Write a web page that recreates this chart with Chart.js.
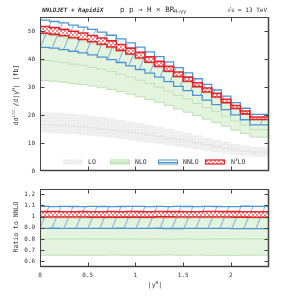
<!DOCTYPE html>
<html>
<head>
<meta charset="utf-8">
<script src="https://cdn.jsdelivr.net/npm/chart.js@4.4.0/dist/chart.umd.min.js"></script>
<style>
  html, body { margin: 0; padding: 0; background: #fff; }
  #wrap { position: relative; width: 284px; height: 301px; overflow: hidden; }
  .pane { position: absolute; left: 0; width: 284px; }
</style>
</head>
<body>
<div id="wrap">
  <div class="pane" style="top:0;height:180px"><canvas id="mainChart" width="284" height="180"></canvas></div>
  <div class="pane" style="top:180px;height:121px"><canvas id="ratioChart" width="284" height="121"></canvas></div>
</div>
<script>
// bin edges in |y^H|
const binEdges = [0.0, 0.1, 0.2, 0.3, 0.4, 0.5, 0.6, 0.7, 0.8, 0.9, 1.0, 1.1, 1.2,
                  1.3, 1.4, 1.5, 1.6, 1.7, 1.8, 1.9, 2.0, 2.1, 2.2, 2.3, 2.4];

// dsigma/d|y^H| [fb], one value per bin
const loLow     = [13.8,13.7,13.6,13.4,13.2,12.9,12.6,12.3,11.9,11.5,11.0,10.6,10.2,9.7,9.3,8.8,8.3,7.8,7.3,6.8,6.3,5.9,5.5,5.2];
const loCentral = [16.6,16.6,16.5,16.3,16.1,15.9,15.5,15.2,14.8,14.4,14.0,13.5,13.0,12.5,11.9,11.4,10.8,10.1,9.5,8.9,8.2,7.7,7.3,6.9];
const loHigh    = [21.2,21.1,21.0,20.8,20.5,20.2,19.8,19.4,18.9,18.4,17.8,17.2,16.6,15.9,15.2,14.5,13.7,12.9,12.1,11.3,10.5,9.8,9.3,8.8];

const nloLow     = [32.5,32.4,32.1,31.8,31.3,30.9,30.4,29.8,29.2,28.4,27.5,26.6,25.6,24.6,23.5,22.2,21.1,19.9,18.6,17.4,16.1,14.7,13.5,12.2];
const nloCentral = [39.7,39.5,39.2,38.8,38.2,37.8,37.1,36.4,35.6,34.6,33.6,32.5,31.3,30.0,28.6,27.1,25.8,24.2,22.7,21.3,19.7,18.0,16.5,14.9];
const nloHigh    = [48.9,48.7,48.3,47.8,47.1,46.5,45.7,44.8,43.8,42.7,41.4,40.0,38.5,36.9,35.3,33.4,31.7,29.9,28.0,26.2,24.2,22.2,20.3,18.3];

const nnloLow     = [44.4,44.2,43.9,43.4,42.8,42.2,41.5,40.7,39.8,38.8,37.6,36.3,35.0,33.6,32.0,30.3,28.8,27.1,25.4,23.8,22.0,20.1,18.4,16.6];
const nnloCentral = [49.6,49.4,49.0,48.5,47.8,47.2,46.4,45.5,44.5,43.3,42.0,40.6,39.1,37.5,35.8,33.9,32.2,30.3,28.4,26.6,24.6,22.5,20.6,18.6];
const nnloHigh    = [54.1,53.9,53.4,52.9,52.1,51.4,50.6,49.6,48.5,47.2,45.8,44.3,42.6,40.9,39.0,37.0,35.1,33.0,31.0,29.0,26.8,24.5,22.5,20.3];

const n3loLow  = [49.4,49.2,48.8,48.3,47.6,47.0,46.2,45.3,44.3,43.1,41.8,40.4,38.9,37.4,35.7,33.8,32.1,30.2,28.3,26.5,24.5,22.4,20.5,18.5];
const n3loHigh = [51.8,51.6,51.2,50.6,49.9,49.3,48.4,47.5,46.5,45.2,43.9,42.4,40.8,39.2,37.4,35.4,33.6,31.6,29.7,27.8,25.7,23.5,21.5,19.4];

const mainYTicks  = [0, 10, 20, 30, 40, 50];
const ratioYTicks = [0.6, 0.7, 0.8, 0.9, 1, 1.1, 1.2];
const xTicks      = [0, 0.5, 1, 1.5, 2];
const legendLabels = ['LO', 'NLO', 'NNLO', 'N3LO'];

const MONO = '"DejaVu Sans Mono", "Liberation Mono", monospace';
const TXT = '#333';

// histogram step points: one point per bin edge, last bin repeated
function steps(vals) {
    return binEdges.map((x, i) => ({ x: x, y: vals[Math.min(i, vals.length - 1)] }));
}
function ratioTo(vals) {
    return vals.map((v, i) => v / nnloCentral[i]);
}

// --- fill patterns ---
function makePattern(w, h, paint) {
    const c = document.createElement('canvas');
    c.width = w; c.height = h;
    const g = c.getContext('2d');
    paint(g, w, h);
    return g.createPattern(c, 'repeat');
}
const grayPattern = makePattern(3, 3, (g) => {
    g.fillStyle = '#f2f2f2'; g.fillRect(0, 0, 3, 3);
    g.fillStyle = '#e6e6e6'; g.fillRect(0, 0, 1, 1); g.fillRect(2, 1, 1, 1);
});
const hatchPattern = makePattern(12, 29, (g, w, h) => {
    g.strokeStyle = '#6aa6d8'; g.lineWidth = 0.9;
    for (let k = -1; k <= 1; k++) {
        g.beginPath();
        g.moveTo(k * w - 2, h + 2 * 29 / 12);
        g.lineTo(k * w + w + 2, -2 * 29 / 12);
        g.stroke();
    }
});
const checkerPattern = makePattern(4, 4, (g) => {
    g.fillStyle = '#f08a8a'; g.fillRect(0, 0, 4, 4);
    g.fillStyle = '#ffffff'; g.fillRect(0, 0, 2, 2); g.fillRect(2, 2, 2, 2);
});

const GREEN_FILL = '#e3f3de';
const GREEN_LINE = '#bde3b5';
const BLUE = '#4d95d0';
const RED = '#e3262e';

function bandSets(lo, hi, baseIdx, style) {
    // lower edge, then upper edge filled down to it
    return [
        { data: steps(lo), borderColor: style.edge, borderWidth: style.edgeWidth, fill: false, order: style.order },
        { data: steps(hi), borderColor: style.edge, borderWidth: style.edgeWidth, backgroundColor: style.fill,
          fill: { target: baseIdx }, order: style.order + 1 }
    ];
}

function buildDatasets(src) {
    const sets = [];
    let idx;
    if (src.lo) {
        idx = sets.length;
        sets.push(...bandSets(src.lo[0], src.lo[2], idx, { edge: 'rgba(0,0,0,0)', edgeWidth: 0, fill: grayPattern, order: 40 }));
        sets.push({ data: steps(src.lo[1]), borderColor: '#e0e0e0', borderWidth: 1, fill: false, order: 39 });
    }
    idx = sets.length;
    sets.push(...bandSets(src.nlo[0], src.nlo[2], idx, { edge: GREEN_LINE, edgeWidth: 1, fill: GREEN_FILL, order: 30 }));
    sets.push({ data: steps(src.nlo[1]), borderColor: GREEN_LINE, borderWidth: 1, fill: false, order: 29 });
    idx = sets.length;
    sets.push(...bandSets(src.nnlo[0], src.nnlo[2], idx, { edge: BLUE, edgeWidth: 1.3, fill: hatchPattern, order: 20 }));
    idx = sets.length;
    sets.push(...bandSets(src.n3lo[0], src.n3lo[1], idx, { edge: RED, edgeWidth: 1.6, fill: checkerPattern, order: 10 }));
    sets.forEach(s => { s.stepped = 'after'; s.pointRadius = 0; s.tension = 0; });
    return sets;
}

// frame with inward ticks on all four sides
function framePlugin(yTickVals) {
    return {
        id: 'frame',
        afterDraw(chart) {
            const { ctx, chartArea: a, scales } = chart;
            ctx.save();
            ctx.strokeStyle = '#444';
            ctx.lineWidth = 1;
            const L = Math.round(a.left) + 0.5, R = Math.round(a.right) - 0.5;
            const T = Math.round(a.top) + 0.5, B = Math.round(a.bottom) - 0.5;
            ctx.beginPath();
            yTickVals.forEach(v => {
                const y = Math.round(scales.y.getPixelForValue(v)) + 0.5;
                if (y < T + 1 || y > B - 1) return;
                ctx.moveTo(L, y); ctx.lineTo(L + 4, y);
                ctx.moveTo(R, y); ctx.lineTo(R - 4, y);
            });
            xTicks.forEach(v => {
                const x = Math.round(scales.x.getPixelForValue(v)) + 0.5;
                if (x < L + 1 || x > R - 1) return;
                ctx.moveTo(x, T); ctx.lineTo(x, T + 4);
                ctx.moveTo(x, B); ctx.lineTo(x, B - 4);
            });
            ctx.stroke();
            ctx.strokeRect(L, T, R - L, B - T);
            ctx.lineWidth = 1.5;
            ctx.beginPath();
            ctx.moveTo(R, T); ctx.lineTo(R, B); ctx.lineTo(L, B);
            ctx.stroke();
            ctx.restore();
        }
    };
}

// text with super/subscripts: parts = [text, size, dy, style]
function drawRich(ctx, parts, x, y, align) {
    let total = 0;
    parts.forEach(p => { ctx.font = (p[3] || '') + ' ' + p[1] + 'px ' + MONO; p.w = ctx.measureText(p[0]).width; total += p.w; });
    let cx = align === 'center' ? x - total / 2 : (align === 'right' ? x - total : x);
    ctx.textAlign = 'left';
    parts.forEach(p => {
        ctx.font = (p[3] || '') + ' ' + p[1] + 'px ' + MONO;
        ctx.fillText(p[0], cx, y + p[2]);
        cx += p.w;
    });
}

const mainTextPlugin = {
    id: 'mainText',
    afterDraw(chart) {
        const ctx = chart.ctx;
        ctx.save();
        ctx.fillStyle = TXT;
        ctx.textBaseline = 'middle';
        drawRich(ctx, [['NNLOJET + RapidiX', 6, 0, 'italic bold']], 42, 10, 'left');
        drawRich(ctx, [['p p \u2192 H \u00d7 BR', 7.5, 0], ['H\u2192\u03b3\u03b3', 5, 2]], 120, 10, 'left');
        drawRich(ctx, [['\u221as = 13 TeV', 6, 0]], 267, 10, 'right');

        // y axis title
        ctx.save();
        ctx.translate(16, 95);
        ctx.rotate(-Math.PI / 2);
        drawRich(ctx, [['d\u03c3', 6.5, 0], ['inc.', 4.5, -2.5], ['/d|y', 6.5, 0], ['H', 4.5, -2.5], ['| [fb]', 6.5, 0]], 0, 0, 'center');
        ctx.restore();

        // legend
        const ly = 162, bw = 20, bh = 5;
        const items = [
            { x: 63, tx: 88 }, { x: 110, tx: 135 }, { x: 158, tx: 183 }, { x: 205, tx: 231 }
        ];
        items.forEach((it, i) => {
            const x0 = it.x, y0 = ly - bh / 2;
            if (i === 0) {
                ctx.fillStyle = grayPattern; ctx.fillRect(x0, y0, bw, bh);
            } else if (i === 1) {
                ctx.fillStyle = GREEN_FILL; ctx.fillRect(x0, y0, bw, bh);
                ctx.strokeStyle = GREEN_LINE; ctx.lineWidth = 1;
                ctx.strokeRect(x0 + 0.5, y0 + 0.5, bw - 1, bh - 1);
                ctx.beginPath(); ctx.moveTo(x0, ly + 0.5); ctx.lineTo(x0 + bw, ly + 0.5); ctx.stroke();
            } else if (i === 2) {
                ctx.strokeStyle = BLUE; ctx.lineWidth = 1;
                ctx.strokeRect(x0 + 0.5, y0 + 0.5, bw - 1, bh - 1);
                ctx.beginPath(); ctx.moveTo(x0, ly + 0.5); ctx.lineTo(x0 + bw, ly + 0.5); ctx.stroke();
            } else {
                ctx.fillStyle = checkerPattern; ctx.fillRect(x0, y0, bw, bh);
                ctx.strokeStyle = RED; ctx.lineWidth = 1.2;
                ctx.strokeRect(x0 + 0.5, y0 + 0.5, bw - 1, bh - 1);
            }
            ctx.fillStyle = TXT;
            const lab = legendLabels[i];
            if (lab === 'N3LO') {
                drawRich(ctx, [['N', 6.5, 0], ['3', 4.5, -2.2], ['LO', 6.5, 0]], it.tx, ly, 'left');
            } else {
                drawRich(ctx, [[lab, 6.5, 0]], it.tx, ly, 'left');
            }
        });
        ctx.restore();
    }
};

const ratioTextPlugin = {
    id: 'ratioText',
    afterDraw(chart) {
        const ctx = chart.ctx;
        ctx.save();
        ctx.fillStyle = TXT;
        ctx.textBaseline = 'middle';
        ctx.save();
        ctx.translate(16, 47);
        ctx.rotate(-Math.PI / 2);
        drawRich(ctx, [['Ratio to NNLO', 6.5, 0]], 0, 0, 'center');
        ctx.restore();
        drawRich(ctx, [['|y', 6.5, 0], ['H', 4.5, -2.5], ['|', 6.5, 0]], 155, 105, 'center');
        ctx.restore();
    }
};

function tickFont() { return { family: MONO, size: 6 }; }

function baseOptions(yMin, yMax, yTickVals, showX, padding) {
    return {
        responsive: false,
        devicePixelRatio: 1,
        animation: false,
        events: [],
        layout: { padding: padding },
        plugins: { legend: { display: false }, tooltip: { enabled: false } },
        scales: {
            x: {
                type: 'linear', min: 0, max: 2.4,
                display: true,
                grid: { display: false, drawTicks: false },
                border: { display: false },
                afterBuildTicks: (s) => { s.ticks = xTicks.map(v => ({ value: v })); },
                afterFit: (s) => { s.height = showX ? 34 : 0; },
                ticks: { display: showX, font: tickFont(), color: TXT, padding: 5, maxRotation: 0, autoSkip: false,
                         callback: (v) => String(v) }
            },
            y: {
                type: 'linear', min: yMin, max: yMax,
                grid: { display: false, drawTicks: false },
                border: { display: false },
                afterBuildTicks: (s) => { s.ticks = yTickVals.map(v => ({ value: v })); },
                afterFit: (s) => { s.width = 40; },
                ticks: { font: tickFont(), color: TXT, padding: 5, autoSkip: false,
                         callback: (v) => String(v) }
            }
        }
    };
}

new Chart(document.getElementById('mainChart'), {
    type: 'line',
    data: {
        datasets: buildDatasets({
            lo: [loLow, loCentral, loHigh],
            nlo: [nloLow, nloCentral, nloHigh],
            nnlo: [nnloLow, nnloCentral, nnloHigh],
            n3lo: [n3loLow, n3loHigh]
        })
    },
    options: baseOptions(0, 55, mainYTicks, false, { top: 17, right: 15, bottom: 7, left: 0 }),
    plugins: [framePlugin(mainYTicks), mainTextPlugin]
});

new Chart(document.getElementById('ratioChart'), {
    type: 'line',
    data: {
        datasets: buildDatasets({
            nlo: [ratioTo(nloLow), ratioTo(nloCentral), ratioTo(nloHigh)],
            nnlo: [ratioTo(nnloLow), ratioTo(nnloCentral), ratioTo(nnloHigh)],
            n3lo: [ratioTo(n3loLow), ratioTo(n3loHigh)]
        })
    },
    options: baseOptions(0.55, 1.25, ratioYTicks, true, { top: 7, right: 15, bottom: 0, left: 0 }),
    plugins: [framePlugin(ratioYTicks), ratioTextPlugin]
});
</script>
</body>
</html>
